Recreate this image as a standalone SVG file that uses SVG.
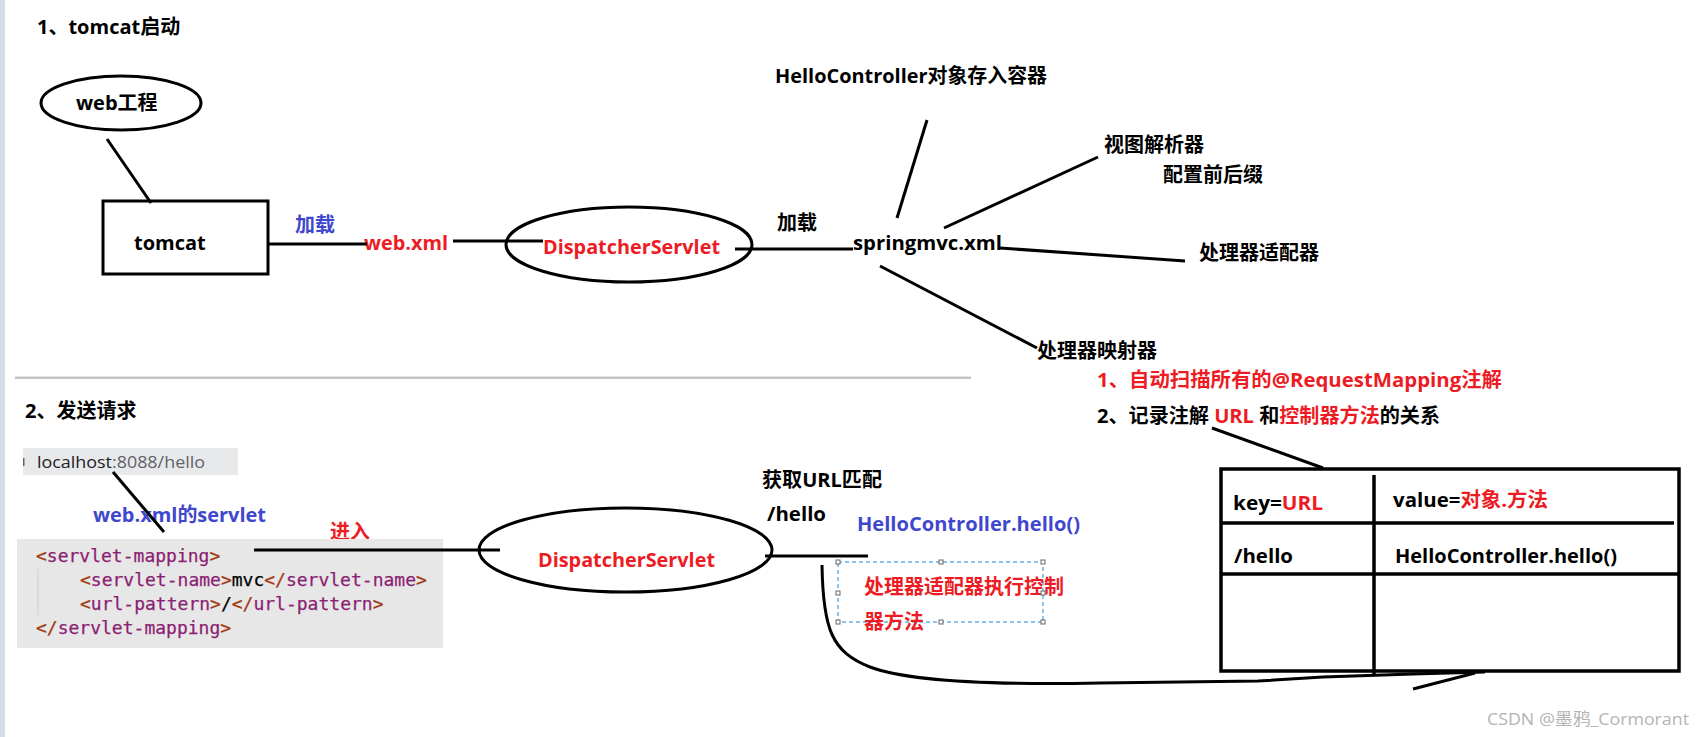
<svg xmlns="http://www.w3.org/2000/svg" width="1705" height="737" viewBox="0 0 1705 737">
<style>
text{font-family:"Open Sans","Noto Sans CJK SC",sans-serif;font-size:20px;font-weight:bold;fill:#000}
.r{fill:#ED1C24}
.b{fill:#3F48CC}
.ln{stroke:#000;stroke-width:3;fill:none;stroke-linecap:butt}
.shape{stroke:#000;stroke-width:3;fill:none}
.code{font-family:"DejaVu Sans Mono","Liberation Mono",monospace;font-size:18px;font-weight:normal;fill:#000;stroke:#000;stroke-width:0.25}
.br{fill:#A33A12;stroke:#A33A12}
.tg{fill:#8B1F73;stroke:#8B1F73}
.h{fill:#fff;stroke:#666;stroke-width:1}
</style>
<rect x="0" y="0" width="1705" height="737" fill="#fff"/>
<rect x="0" y="0" width="5" height="737" fill="#d5dce9"/>
<rect x="15" y="376.5" width="956" height="2.5" fill="#c4c4c4"/>

<g id="title1"><text x="37" y="34">1、tomcat启动</text></g>
<g id="web-project"><ellipse class="shape" cx="121" cy="103" rx="80" ry="27"/><text x="76" y="110">web工程</text></g>
<g id="tomcat"><rect class="shape" x="103" y="201" width="165" height="73"/><text x="134" y="250">tomcat</text></g>
<g id="label-load1"><text class="b" x="295" y="232">加载</text></g>
<g id="webxml"><text class="r" x="364" y="250" textLength="84" lengthAdjust="spacingAndGlyphs">web.xml</text></g>
<g id="dispatcher1"><ellipse class="shape" cx="629" cy="244.5" rx="123" ry="37.5"/><text class="r" x="543" y="254" textLength="177" lengthAdjust="spacingAndGlyphs">DispatcherServlet</text></g>
<g id="label-load2"><text x="777" y="230">加载</text></g>
<g id="springmvc"><text x="853" y="250" textLength="149" lengthAdjust="spacingAndGlyphs">springmvc.xml</text></g>
<g id="hello-container"><text x="775" y="83" textLength="272" lengthAdjust="spacingAndGlyphs">HelloController对象存入容器</text></g>
<g id="view-resolver"><text x="1104" y="151.5">视图解析器</text><text x="1163" y="181.5">配置前后缀</text></g>
<g id="handler-adapter"><text x="1199" y="260">处理器适配器</text></g>
<g id="handler-mapping"><text x="1037" y="357.5">处理器映射器</text>
<text class="r" x="1097" y="386.5" textLength="405" lengthAdjust="spacingAndGlyphs">1、自动扫描所有的@RequestMapping注解</text>
<text x="1097" y="422.5" textLength="343" lengthAdjust="spacingAndGlyphs">2、记录注解 <tspan class="r">URL</tspan> 和<tspan class="r">控制器方法</tspan>的关系</text></g>

<g id="title2"><text x="25" y="418">2、发送请求</text></g>
<g id="address-bar"><rect x="23" y="448" width="215" height="27" fill="#e8e9eb"/><rect x="23" y="458" width="1.5" height="8" fill="#5f6368"/>
<text x="37" y="468" style="font-size:17px;font-weight:normal" textLength="168" lengthAdjust="spacingAndGlyphs"><tspan fill="#202124">localhost</tspan><tspan fill="#5f6368">:8088/hello</tspan></text></g>
<g id="label-servlet"><text class="b" x="93" y="522" textLength="173" lengthAdjust="spacingAndGlyphs">web.xml的servlet</text></g>
<g id="label-enter"><text class="r" x="330" y="538.5">进入</text></g>
<g id="code-block"><rect x="17" y="539" width="426" height="109" fill="#e7e7e7"/>
<rect x="37.5" y="569" width="1" height="46" fill="#cccccc"/>
<text class="code" x="36" y="562"><tspan class="br">&lt;</tspan><tspan class="tg">servlet-mapping</tspan><tspan class="br">&gt;</tspan></text>
<text class="code" x="80" y="586"><tspan class="br">&lt;</tspan><tspan class="tg">servlet-name</tspan><tspan class="br">&gt;</tspan>mvc<tspan class="br">&lt;/</tspan><tspan class="tg">servlet-name</tspan><tspan class="br">&gt;</tspan></text>
<text class="code" x="80" y="610"><tspan class="br">&lt;</tspan><tspan class="tg">url-pattern</tspan><tspan class="br">&gt;</tspan>/<tspan class="br">&lt;/</tspan><tspan class="tg">url-pattern</tspan><tspan class="br">&gt;</tspan></text>
<text class="code" x="36" y="634"><tspan class="br">&lt;/</tspan><tspan class="tg">servlet-mapping</tspan><tspan class="br">&gt;</tspan></text></g>
<g id="dispatcher2"><ellipse class="shape" cx="625.5" cy="550" rx="146.5" ry="42"/><text class="r" x="538" y="567" textLength="177" lengthAdjust="spacingAndGlyphs">DispatcherServlet</text></g>
<g id="label-match"><text x="762" y="486.5" textLength="120" lengthAdjust="spacingAndGlyphs">获取URL匹配</text><text x="767" y="521" textLength="59" lengthAdjust="spacingAndGlyphs">/hello</text></g>
<g id="label-hello-method"><text class="b" x="857" y="531" textLength="223" lengthAdjust="spacingAndGlyphs">HelloController.hello()</text></g>
<g id="adapter-note">
<rect x="838" y="562" width="205" height="60" fill="none" stroke="#1a86d8" stroke-width="1" stroke-dasharray="4 3"/>
<text class="r" x="864" y="593.5">处理器适配器执行控制</text><text class="r" x="864" y="628.5">器方法</text>
<rect class="h" x="836" y="560" width="4" height="4"/><rect class="h" x="939" y="560" width="4" height="4"/><rect class="h" x="1041" y="560" width="4" height="4"/>
<rect class="h" x="836" y="591" width="4" height="4"/><rect class="h" x="1041" y="591" width="4" height="4"/>
<rect class="h" x="836" y="620" width="4" height="4"/><rect class="h" x="939" y="620" width="4" height="4"/><rect class="h" x="1041" y="620" width="4" height="4"/>
</g>
<g id="mapping-table">
<g stroke="#000" stroke-width="3.5" fill="none">
<rect x="1221" y="469" width="458" height="202"/>
<line x1="1374" y1="475" x2="1374" y2="676"/>
<line x1="1221" y1="523" x2="1674" y2="523"/>
<line x1="1221" y1="574" x2="1679" y2="574"/>
</g>
<text x="1233" y="510" textLength="90" lengthAdjust="spacingAndGlyphs">key=<tspan class="r">URL</tspan></text>
<text x="1393" y="507" textLength="155" lengthAdjust="spacingAndGlyphs">value=<tspan class="r">对象.方法</tspan></text>
<text x="1234" y="563" textLength="59" lengthAdjust="spacingAndGlyphs">/hello</text>
<text x="1395" y="563" textLength="222" lengthAdjust="spacingAndGlyphs">HelloController.hello()</text>
</g>
<g id="watermark"><text x="1487" y="725" style="font-size:17px;font-weight:normal;fill:#b4b4b4" textLength="202" lengthAdjust="spacingAndGlyphs">CSDN @墨鸦_Cormorant</text></g>

<g id="connectors">
<line class="ln" x1="107" y1="139" x2="151" y2="203"/>
<line class="ln" x1="268" y1="244" x2="367" y2="244"/>
<line class="ln" x1="453" y1="241" x2="543" y2="241"/>
<line class="ln" x1="735" y1="249" x2="853" y2="249"/>
<line class="ln" x1="927" y1="120" x2="897" y2="218"/>
<line class="ln" x1="1098" y1="157" x2="944" y2="228"/>
<line class="ln" x1="1000" y1="248" x2="1185" y2="261"/>
<line class="ln" x1="880" y1="266" x2="1037" y2="348"/>
<line class="ln" x1="1212" y1="428" x2="1323" y2="468"/>
<line class="ln" x1="113" y1="472" x2="164" y2="532"/>
<line class="ln" x1="254" y1="550" x2="500" y2="550"/>
<line class="ln" x1="765" y1="556" x2="868" y2="556"/>
<path class="ln" d="M822,565 C823,630 832,652 870,667 C910,682 1000,685 1100,683 L1258,681 L1323,677 L1413,674 L1485,672"/>
<line class="ln" x1="1413" y1="689" x2="1475" y2="673"/>
</g>
</svg>
